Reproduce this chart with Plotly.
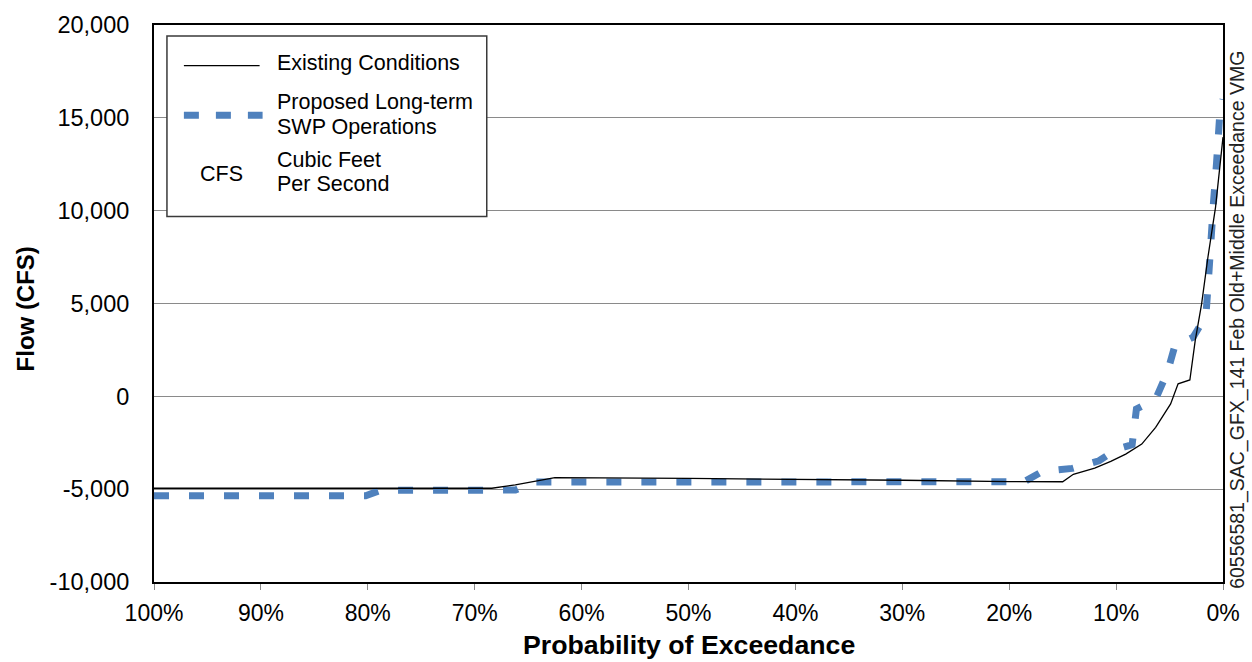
import plotly.graph_objects as go

# Exceedance probability (%) and flow (cfs) for each scenario
existing_pct = [100, 69, 68.4, 66.2, 63.1, 62.5, 50, 40, 30, 20, 16.5, 15, 14, 12,
                10.5, 9.1, 7.6, 6.3, 4.9, 4.2, 3.1, 2.6, 2.0, 1.4, 0.7, 0]
existing_cfs = [-4950, -4960, -4950, -4770, -4470, -4380, -4420, -4460, -4520, -4590,
                -4600, -4600, -4200, -3870, -3500, -3110, -2570, -1670, -410, 670,
                880, 3000, 4980, 7530, 10180, 13960]

proposed_pct = [100, 80.2, 78.8, 67, 66.2, 64.5, 19, 18.6, 16.9, 14.1, 11.6, 9.9,
                8.8, 8.5, 8.1, 6.3, 5.2, 4.5, 2.8, 1.6, 1.37, 1.2, 0.9, 0.6, 0.3, 0]
proposed_cfs = [-5350, -5350, -5060, -5060, -5050, -4620, -4620, -4600, -4050, -3880,
                -3470, -2840, -2660, -2600, -680, -150, 1300, 2730, 3180, 4330, 6200,
                8150, 10360, 12600, 15200, 16000]

x_tick_vals = [100, 90, 80, 70, 60, 50, 40, 30, 20, 10, 0]
x_tick_text = ["100%", "90%", "80%", "70%", "60%", "50%", "40%", "30%", "20%", "10%", "0%"]
y_tick_vals = [-10000, -5000, 0, 5000, 10000, 15000, 20000]
y_tick_text = ["-10,000", "-5,000", "0", "5,000", "10,000", "15,000", "20,000"]

FONT = "Liberation Sans, Arial, sans-serif"
BLUE = "#4f81bd"
W, H = 1252, 662
L, R, T, B = 154, 25, 21, 80
PW, PH = W - L - R, H - T - B


def px(x):
    return (x - L) / PW


def py(y):
    return (H - B - y) / PH


fig = go.Figure()
fig.add_trace(go.Scatter(x=proposed_pct, y=proposed_cfs, mode="lines",
                         line=dict(color=BLUE, width=7, dash="15px,20px"),
                         showlegend=False, hoverinfo="skip"))
fig.add_trace(go.Scatter(x=existing_pct, y=existing_cfs, mode="lines",
                         line=dict(color="black", width=1.3),
                         showlegend=False, hoverinfo="skip"))

# legend box and samples
shapes = [
    dict(type="rect", xref="paper", yref="paper", x0=px(167), x1=px(488), y0=py(32), y1=py(214),
         line=dict(color="#3a3a3a", width=1.5), fillcolor="white", layer="above"),
    dict(type="line", xref="paper", yref="paper", x0=px(184), x1=px(260), y0=py(62), y1=py(62),
         line=dict(color="black", width=1.3), layer="above"),
    dict(type="line", xref="paper", yref="paper", x0=px(184), x1=px(263), y0=py(112), y1=py(112),
         line=dict(color=BLUE, width=7, dash="15px,17px"), layer="above"),
]

annotations = []


def note(text, x, y, size=21.5, xanchor="left", bold=False, angle=0, color="black"):
    annotations.append(dict(
        text=f"<b>{text}</b>" if bold else text, xref="paper", yref="paper",
        x=px(x), y=py(y), xanchor=xanchor, yanchor="middle", showarrow=False,
        textangle=angle, font=dict(family=FONT, size=size, color=color)))


note("Existing Conditions", 275, 59.5)
note("Proposed Long-term", 275, 98.5)
note("SWP Operations", 275, 123.5)
note("Cubic Feet", 275, 156.5)
note("Per Second", 275, 181.5)
note("CFS", 222, 171, xanchor="center")

note("Probability of Exceedance", 691, 645, size=26.7, xanchor="center", bold=True)
note("Flow (CFS)", 25, 307, size=24, xanchor="center", bold=True, angle=-90)
note("60556581_SAC_GFX_141 Feb Old+Middle Exceedance VMG", 1242, 318, size=19.5,
     xanchor="center", angle=-90, color="#222222")

fig.update_layout(
    width=W, height=H,
    margin=dict(l=L, r=R, t=T, b=B),
    paper_bgcolor="white", plot_bgcolor="white",
    font=dict(family=FONT, size=23, color="black"),
    shapes=shapes, annotations=annotations,
    xaxis=dict(range=[100, 0], tickmode="array", tickvals=x_tick_vals, ticktext=x_tick_text,
               showgrid=False, zeroline=False, showline=True, mirror=True,
               linecolor="black", linewidth=2, ticks="outside", ticklen=6,
               tickcolor="#8a8a8a", tickwidth=1, ticklabelstandoff=3,
               tickfont=dict(family=FONT, size=23, color="black")),
    yaxis=dict(range=[-10000, 20000], tickmode="array", tickvals=y_tick_vals, ticktext=y_tick_text,
               showgrid=True, gridcolor="#8a8a8a", gridwidth=1, zeroline=False,
               showline=True, mirror=True, linecolor="black", linewidth=2,
               ticks="", ticklabelstandoff=18,
               tickfont=dict(family=FONT, size=23.5, color="black")),
)

fig.write_html("out.html")
